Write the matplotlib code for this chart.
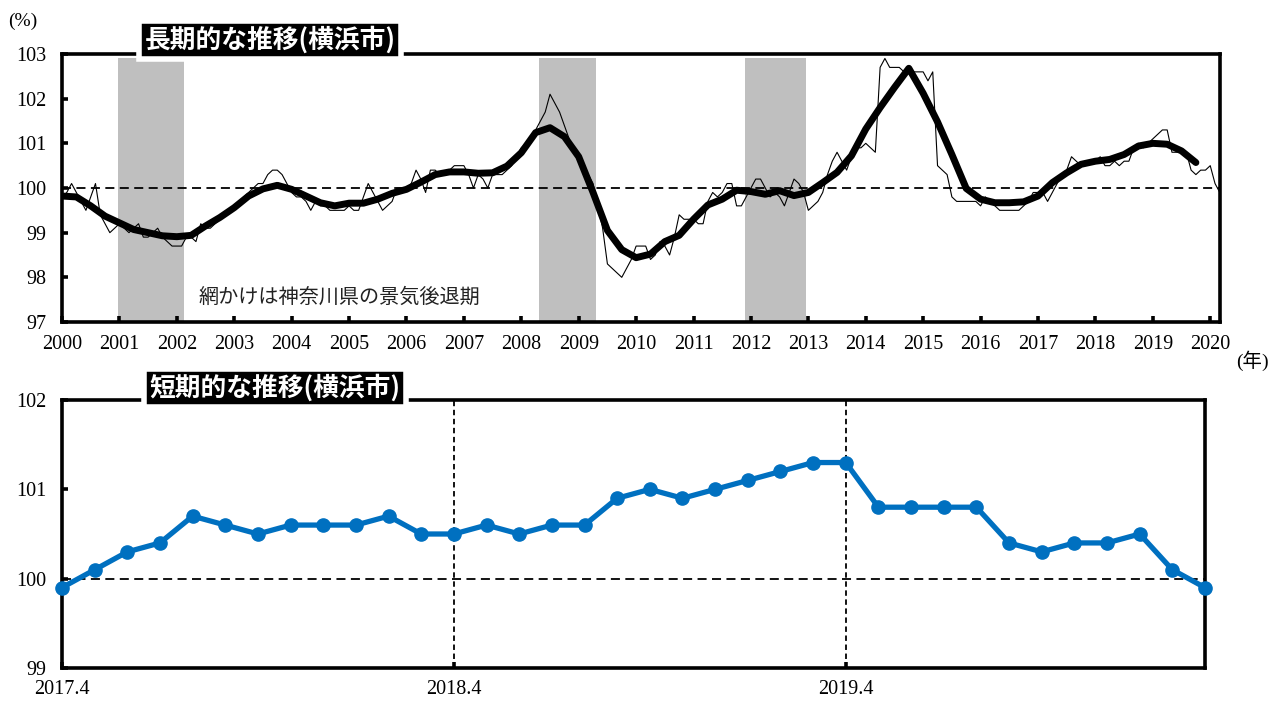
import numpy as np
import matplotlib.pyplot as plt

plt.rcParams['font.family'] = ['Liberation Serif', 'Noto Sans CJK JP']

# monthly index (Yokohama), Jan 2000 - Mar 2020
cpi_monthly = [
    99.8, 99.9, 100.1, 99.9, 99.7, 99.5, 99.8, 100.1, 99.4, 99.2, 99.0, 99.1,        # 2000
    99.2, 99.1, 99.0, 99.1, 99.2, 98.9, 98.9, 99.0, 99.1, 98.9, 98.8, 98.7,          # 2001
    98.7, 98.7, 98.9, 98.9, 98.8, 99.2, 99.1, 99.1, 99.2, 99.3, 99.4, 99.5,          # 2002
    99.6, 99.7, 99.8, 99.9, 100.0, 100.1, 100.1, 100.3, 100.4, 100.4, 100.3, 100.1,  # 2003
    99.9, 99.8, 99.8, 99.7, 99.5, 99.7, 99.6, 99.6, 99.5, 99.5, 99.5, 99.5,          # 2004
    99.6, 99.5, 99.5, 99.8, 100.1, 99.9, 99.7, 99.5, 99.6, 99.7, 100.0, 100.0,       # 2005
    100.0, 100.1, 100.4, 100.2, 99.9, 100.4, 100.4, 100.3, 100.3, 100.4, 100.5, 100.5,  # 2006
    100.5, 100.3, 100.0, 100.3, 100.2, 100.0, 100.3, 100.3, 100.3, 100.4, 100.5, 100.7,  # 2007
    100.9, 101.0, 101.0, 101.3, 101.5, 101.7, 102.1, 101.9, 101.7, 101.4, 101.1, 100.8,  # 2008
    100.6, 100.4, 100.3, 100.1, 99.6, 99.1, 98.3, 98.2, 98.1, 98.0, 98.2, 98.4,      # 2009
    98.7, 98.7, 98.7, 98.4, 98.5, 98.8, 98.7, 98.5, 98.9, 99.4, 99.3, 99.3,          # 2010
    99.3, 99.2, 99.2, 99.7, 99.9, 99.8, 99.9, 100.1, 100.1, 99.6, 99.6, 99.8,        # 2011
    100.0, 100.2, 100.2, 100.0, 99.8, 99.9, 99.8, 99.6, 99.9, 100.2, 100.1, 99.9,    # 2012
    99.5, 99.6, 99.7, 99.9, 100.3, 100.6, 100.8, 100.6, 100.4, 100.7, 100.9, 100.9,  # 2013
    101.0, 100.9, 100.8, 102.7, 102.9, 102.7, 102.7, 102.7, 102.6, 102.6, 102.6, 102.6,  # 2014
    102.6, 102.4, 102.6, 100.5, 100.4, 100.3, 99.8, 99.7, 99.7, 99.7, 99.7, 99.7,    # 2015
    99.6, 99.8, 99.7, 99.6, 99.5, 99.5, 99.5, 99.5, 99.5, 99.6, 99.7, 99.9,          # 2016
    99.9, 99.9, 99.7, 99.9, 100.1, 100.3, 100.4, 100.7, 100.6, 100.5, 100.6, 100.6,  # 2017
    100.6, 100.7, 100.5, 100.5, 100.6, 100.5, 100.6, 100.6, 100.9, 101.0, 100.9, 101.0,  # 2018
    101.1, 101.2, 101.3, 101.3, 100.8, 100.8, 100.8, 100.8, 100.4, 100.3, 100.4, 100.4,  # 2019
    100.5, 100.1, 99.9,                                                              # 2020
]

# thick trend line, quarterly readings 2000.0 - 2019.75
trend_quarterly = [
    99.82, 99.80, 99.60, 99.37,
    99.22, 99.07, 99.00, 98.93,
    98.91, 98.94, 99.15, 99.34,
    99.56, 99.82, 99.98, 100.06,
    99.97, 99.82, 99.67, 99.60,
    99.66, 99.66, 99.75, 99.88,
    99.97, 100.13, 100.30, 100.36,
    100.36, 100.33, 100.34, 100.49,
    100.79, 101.24, 101.35, 101.15,
    100.70, 99.90, 99.05, 98.62,
    98.44, 98.52, 98.80, 98.94,
    99.30, 99.62, 99.75, 99.95,
    99.92, 99.86, 99.94, 99.83,
    99.90, 100.12, 100.35, 100.72,
    101.32, 101.80, 102.25, 102.68,
    102.12, 101.48, 100.75, 99.99,
    99.75, 99.67, 99.67, 99.69,
    99.82, 100.12, 100.34, 100.53,
    100.60, 100.64, 100.75, 100.94,
    101.00, 100.98, 100.83, 100.57,
]

# shaded recession periods (Kanagawa)
recessions = [(2000.98, 2002.12), (2008.31, 2009.30), (2011.90, 2012.96)]

years = list(range(2000, 2021))

# short-term panel, Apr 2017 - Mar 2020
recent_values = [
    99.9, 100.1, 100.3, 100.4, 100.7, 100.6, 100.5, 100.6, 100.6, 100.6, 100.7, 100.5,
    100.5, 100.6, 100.5, 100.6, 100.6, 100.9, 101.0, 100.9, 101.0, 101.1, 101.2, 101.3,
    101.3, 100.8, 100.8, 100.8, 100.8, 100.4, 100.3, 100.4, 100.4, 100.5, 100.1, 99.9,
]
recent_ticks = [0, 12, 24]
recent_labels = ['2017.4', '2018.4', '2019.4']

BLUE = '#0070C0'
SPINE_W = 2.6
TICK_FS = 14.5


def style_axes(ax):
    for s in ax.spines.values():
        s.set_linewidth(SPINE_W)
        s.set_color('black')
    ax.tick_params(direction='in', length=4, width=SPINE_W, labelsize=TICK_FS,
                   colors='black')
    ax.tick_params(axis='y', pad=11)
    ax.tick_params(axis='x', pad=9)


def title_box(fig, x, y, text):
    fig.text(x / 1277, 1 - y / 702, text, ha='center', va='center',
             color='white', fontsize=18.5, fontweight='bold',
             family=['Noto Sans CJK JP'],
             bbox=dict(boxstyle='square,pad=0.2', fc='black', ec='white', lw=4))


def plot_long_term(fig):
    ax = fig.add_axes([62 / 1277, 1 - 322 / 702, 1158 / 1277, 268 / 702])
    for x0, x1 in recessions:
        ax.axvspan(x0, x1, ymin=0, ymax=(102.9 - 97) / 6, color='#BFBFBF', lw=0)
    ax.axhline(100, color='black', lw=1.3, ls=(0, (5, 3)))

    x_month = 2000 + np.arange(len(cpi_monthly)) / 12
    ax.plot(x_month, cpi_monthly, color='black', lw=0.8)
    x_trend = 2000 + np.arange(len(trend_quarterly)) / 4
    ax.plot(x_trend, trend_quarterly, color='black', lw=5,
            solid_capstyle='round', solid_joinstyle='round')

    ax.set_xlim(2000, 2020.17)
    ax.set_ylim(97, 103)
    ax.set_xticks(years)
    ax.set_xticklabels([str(y) for y in years])
    ax.set_yticks(range(97, 104))
    style_axes(ax)

    ax.text(2002.38, 97.56, '網かけは神奈川県の景気後退期', ha='left', va='center',
            fontsize=14.5, color='#222222', family=['Noto Sans CJK JP'])
    return ax


def plot_short_term(fig):
    ax = fig.add_axes([62 / 1277, 1 - 668 / 702, 1143 / 1277, 268 / 702])
    ax.axhline(100, color='black', lw=1.3, ls=(0, (5, 3)))
    for t in recent_ticks[1:]:
        ax.axvline(t, color='black', lw=1.3, ls=(0, (3, 2)))

    ax.plot(range(len(recent_values)), recent_values, color=BLUE, lw=3.8,
            marker='o', markersize=9.5, clip_on=False, zorder=5)

    ax.set_xlim(0, len(recent_values) - 1)
    ax.set_ylim(99, 102)
    ax.set_xticks(recent_ticks)
    ax.set_xticklabels(recent_labels)
    ax.set_yticks([99, 100, 101, 102])
    style_axes(ax)
    return ax


fig = plt.figure(figsize=(12.77, 7.02), dpi=100)
plot_long_term(fig)
plot_short_term(fig)

title_box(fig, 270, 40, '長期的な推移(横浜市)')
title_box(fig, 275, 388, '短期的な推移(横浜市)')
fig.text(23 / 1277, 1 - 21 / 702, '(%)', ha='center', va='center', fontsize=14)
fig.text(1252 / 1277, 1 - 361 / 702, '(年)', ha='center', va='center', fontsize=14)

fig.savefig('out.png', dpi=100)
